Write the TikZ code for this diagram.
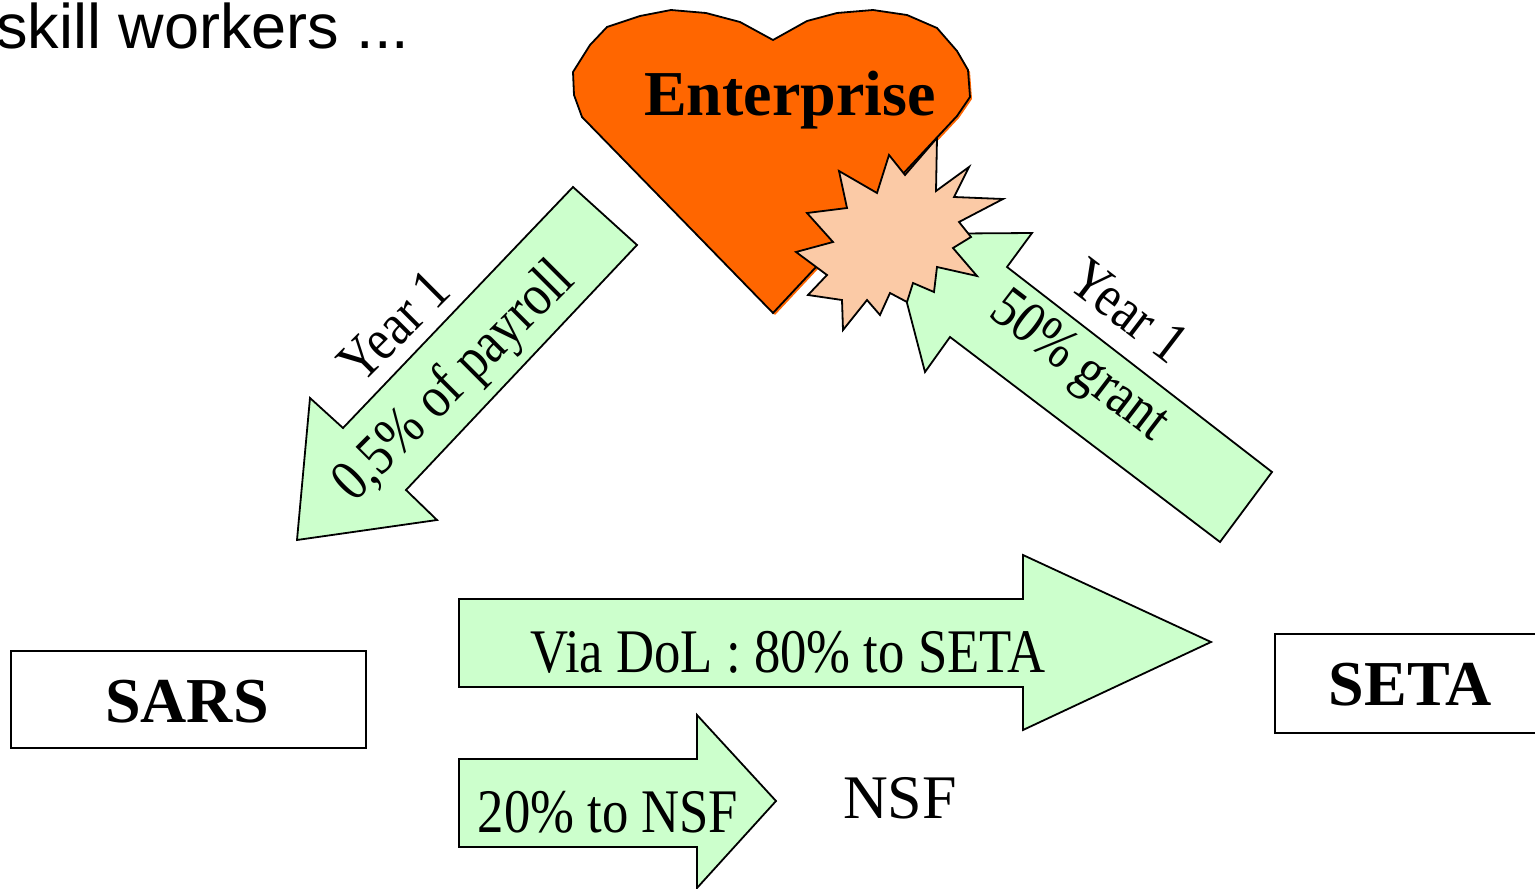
\documentclass[tikz,border=0pt]{standalone}
\usepackage{fontspec}
\setmainfont{Liberation Serif}
\newfontfamily\slidefont{Liberation Sans}
\newfontfamily\arrowfont[FakeStretch=0.85]{Liberation Serif}
\definecolor{arrowgreen}{HTML}{CCFFCC}
\definecolor{heartorange}{HTML}{FF6600}
\definecolor{burstpeach}{RGB}{251,202,166}
\newcommand\heartoutline{(773,313) -- (582,117) -- (574,95) -- (573,72) -- (590,45) -- (607,27)
  -- (640,16) -- (671,10) -- (706,13) -- (740,22) -- (773,40) -- (807,21) -- (837,13)
  -- (873,10) -- (907,15) -- (937,28) -- (957,51) -- (968,70) -- (970,97) -- (957,116) -- cycle}

\begin{document}
\begin{tikzpicture}[x=1pt,y=-1pt]
      \tikzset{
        outline/.style={draw=black, line width=1.8pt, line join=miter},
        blockarrow/.style={outline, fill=arrowgreen},
        agencybox/.style={outline, fill=white},
        arrowlabel/.style={font=\arrowfont\fontsize{62}{66}\selectfont, inner sep=0pt},
        slantlabel/.style={font=\arrowfont\fontsize{59}{63}\selectfont, inner sep=0pt},
        boxlabel/.style={font=\bfseries\fontsize{64}{68}\selectfont, inner sep=0pt},
      }
      \useasboundingbox (0,0) rectangle (1535,889);

      \fill[heartorange, shift={(2,2)}] \heartoutline;
      \filldraw[outline, fill=heartorange] \heartoutline;

      \filldraw[blockarrow] (1272,472) -- (1007,267) -- (1032,233) -- (889,234)
        -- (925,372) -- (950,337) -- (1220,542) -- cycle;
      \filldraw[outline, fill=burstpeach] (937,138) -- (936,191) -- (969,167) -- (954,197)
        -- (1003,199) -- (959,222) -- (971,237) -- (953,248) -- (977,276) -- (937,267)
        -- (934,292) -- (913,283) -- (907,302) -- (890,293) -- (880,315) -- (867,300)
        -- (843,330) -- (842,300) -- (808,295) -- (827,275) -- (796,252) -- (833,242)
        -- (807,213) -- (847,208) -- (839,171) -- (877,193) -- (889,155) -- (905,175) -- cycle;
      \filldraw[blockarrow] (573,187) -- (637,245) -- (406,490) -- (437,520) -- (297,540)
        -- (310,398) -- (343,428) -- cycle;
      \filldraw[blockarrow] (459,599) -- (1023,599) -- (1023,555) -- (1211,642)
        -- (1023,730) -- (1023,687) -- (459,687) -- cycle;
      \filldraw[blockarrow] (459,759) -- (697,759) -- (697,715) -- (776,801)
        -- (697,888) -- (697,847) -- (459,847) -- cycle;
      \filldraw[agencybox] (11,651) rectangle (366,748);
      \filldraw[agencybox] (1275,634) rectangle (1600,733);

      \node[font=\slidefont\fontsize{63}{67}\selectfont, anchor=base west, inner sep=0pt]
        (title) at (-4,48) {skill workers ...};
      \node[boxlabel, anchor=base] (enterprise) at (790,115) {Enterprise};
      \node[slantlabel, rotate=45] (payroll) at (455,383) {0,5\% of payroll};
      \node[slantlabel, rotate=45] (yearsars) at (394,326) {Year 1};
      \node[slantlabel, rotate=-37.4] (grant) at (1078,368) {50\% grant};
      \node[slantlabel, rotate=-37.4] (yearseta) at (1129,311) {Year 1};
      \node[arrowlabel, anchor=base] (viadol) at (788,672) {Via DoL : 80\% to SETA};
      \node[arrowlabel, anchor=base] (tonsf) at (608,832) {20\% to NSF};
      \node[font=\fontsize{62}{66}\selectfont, inner sep=0pt, anchor=base] (nsf) at (900,818) {NSF};
      \node[boxlabel, anchor=base] (sars) at (187,722) {SARS};
      \node[boxlabel, anchor=base] (seta) at (1410,705) {SETA};
\end{tikzpicture}
\end{document}
